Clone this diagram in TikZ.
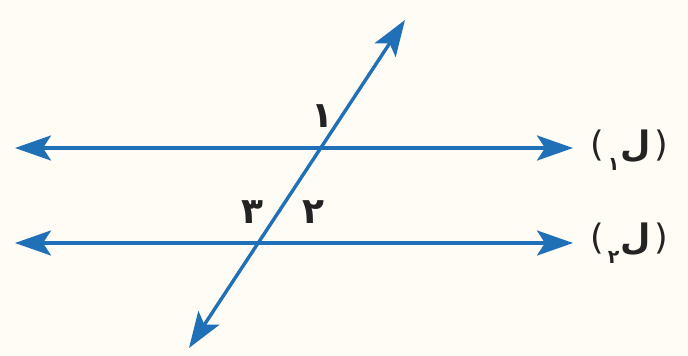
\documentclass[tikz,border=0pt]{standalone}
\usepackage{fontspec}
\usetikzlibrary{arrows.meta}
\newfontfamily\arabicfont[Script=Arabic]{DejaVu Sans}
\newfontfamily\plainfont{DejaVu Sans}
\definecolor{lineblue}{RGB}{32,112,184}
\definecolor{bgcream}{RGB}{254,252,245}
\definecolor{txt}{RGB}{35,35,35}
\tikzset{
  lineshape/.style={draw=lineblue, line width=3.4pt,
    {Stealth[length=36pt,width=25pt,inset=8pt]}-{Stealth[length=36pt,width=25pt,inset=8pt]}},
  anglelabel/.style={text=txt, font=\arabicfont\bfseries\fontsize{36}{40}\selectfont, inner sep=0pt},
  linelabel/.style={text=txt, font=\fontsize{35}{40}\selectfont, inner sep=0pt, anchor=west}
}
\newcommand{\lineword}[1]{{\plainfont(}\hspace{4pt}\raisebox{-0.4em}{\arabicfont\bfseries\fontsize{19}{22}\selectfont #1}\hspace{1pt}{\arabicfont\bfseries ل}\hspace{4pt}{\plainfont)}}
\begin{document}
\begin{tikzpicture}[x=1pt,y=-1pt]
\fill[bgcream] (0,0) rectangle (688,356);
\useasboundingbox (0,0) rectangle (688,356);
\coordinate (l1a) at (15,148);
\coordinate (l1b) at (573,148);
\coordinate (l2a) at (15,243);
\coordinate (l2b) at (573,243);
\coordinate (ta) at (189,348);
\coordinate (tb) at (405,20);
\draw[lineshape] (l1a) -- (l1b);
\draw[lineshape] (l2a) -- (l2b);
\draw[lineshape] (ta) -- (tb);
\node[anglelabel] (a1) at (322,116) {١};
\node[anglelabel] (a2) at (313,212) {٢};
\node[anglelabel] (a3) at (252,212) {٣};
\node[linelabel] (n1) at (590,150) {\lineword{١}};
\node[linelabel] (n2) at (590,243) {\lineword{٢}};
\end{tikzpicture}
\end{document}
